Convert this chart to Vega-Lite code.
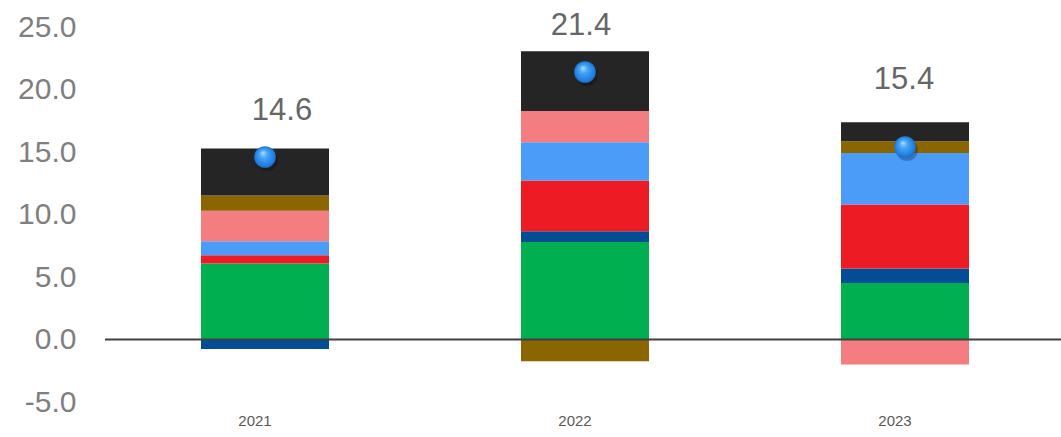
{
  "$schema": "https://vega.github.io/schema/vega-lite/v6.json",
  "width": 960,
  "height": 375,
  "autosize": {"type": "none"},
  "padding": {"left": 105, "top": 27, "right": 0, "bottom": 35},
  "config": {
    "view": {"stroke": null},
    "font": "Liberation Sans"
  },
  "datasets": {
    "segments": [
      {"year": "2021", "series": "Series 1", "rank": 1, "value": 6.08},
      {"year": "2021", "series": "Series 2", "rank": 2, "value": -0.75},
      {"year": "2021", "series": "Series 3", "rank": 3, "value": 0.66},
      {"year": "2021", "series": "Series 4", "rank": 4, "value": 1.12},
      {"year": "2021", "series": "Series 5", "rank": 5, "value": 2.44},
      {"year": "2021", "series": "Series 6", "rank": 6, "value": 1.22},
      {"year": "2021", "series": "Series 7", "rank": 7, "value": 3.76},
      {"year": "2022", "series": "Series 1", "rank": 1, "value": 7.81},
      {"year": "2022", "series": "Series 2", "rank": 2, "value": 0.86},
      {"year": "2022", "series": "Series 3", "rank": 3, "value": 4.05},
      {"year": "2022", "series": "Series 4", "rank": 4, "value": 3.07},
      {"year": "2022", "series": "Series 5", "rank": 5, "value": 2.5},
      {"year": "2022", "series": "Series 6", "rank": 6, "value": -1.73},
      {"year": "2022", "series": "Series 7", "rank": 7, "value": 4.77},
      {"year": "2023", "series": "Series 1", "rank": 1, "value": 4.53},
      {"year": "2023", "series": "Series 2", "rank": 2, "value": 1.15},
      {"year": "2023", "series": "Series 3", "rank": 3, "value": 5.12},
      {"year": "2023", "series": "Series 4", "rank": 4, "value": 4.13},
      {"year": "2023", "series": "Series 5", "rank": 5, "value": -2.0},
      {"year": "2023", "series": "Series 6", "rank": 6, "value": 0.94},
      {"year": "2023", "series": "Series 7", "rank": 7, "value": 1.52}
    ],
    "totals": [
      {"year": "2021", "total": 14.6},
      {"year": "2022", "total": 21.4},
      {"year": "2023", "total": 15.4}
    ]
  },
  "encoding": {
    "x": {
      "field": "year",
      "type": "nominal",
      "scale": {"paddingInner": 0.6, "paddingOuter": 0.3},
      "axis": {
        "title": null,
        "labelAngle": 0,
        "domain": false,
        "ticks": false,
        "labelFontSize": 15,
        "labelColor": "#595959",
        "labelPadding": 11,
        "labelOffset": -10
      }
    }
  },
  "layer": [
    {
      "data": {"name": "segments"},
      "mark": {"type": "bar"},
      "encoding": {
        "y": {
          "field": "value",
          "type": "quantitative",
          "stack": "zero",
          "scale": {"domain": [-5, 25], "nice": false, "zero": false},
          "axis": {
            "title": null,
            "values": [-5, 0, 5, 10, 15, 20, 25],
            "labelExpr": "replace(format(datum.value, '.1f'), '\u2212', '-')",
            "domain": false,
            "ticks": false,
            "grid": false,
            "labelFontSize": 30,
            "labelColor": "#7f7f7f",
            "labelPadding": 29
          }
        },
        "order": {"field": "rank", "type": "quantitative"},
        "color": {
          "field": "series",
          "type": "nominal",
          "legend": null,
          "scale": {
            "domain": ["Series 1", "Series 2", "Series 3", "Series 4", "Series 5", "Series 6", "Series 7"],
            "range": ["#00B050", "#034C96", "#ED1C24", "#4A9CF8", "#F47D80", "#8A6500", "#252525"]
          }
        }
      }
    },
    {
      "data": {"values": [{"zero": 0}]},
      "mark": {"type": "rule", "color": "#404040", "strokeWidth": 2},
      "encoding": {
        "x": null,
        "y": {"field": "zero", "type": "quantitative"}
      }
    },
    {
      "data": {"name": "totals"},
      "mark": {"type": "point", "shape": "circle", "size": 470, "filled": true, "color": "#000000", "opacity": 0.25, "xOffset": 2, "yOffset": 3},
      "encoding": {
        "y": {"field": "total", "type": "quantitative"}
      }
    },
    {
      "data": {"name": "totals"},
      "mark": {
        "type": "point",
        "shape": "circle",
        "size": 470,
        "filled": true,
        "opacity": 1,
        "color": {
          "gradient": "radial",
          "x1": 0.4, "y1": 0.3, "r1": 0,
          "x2": 0.5, "y2": 0.5, "r2": 0.55,
          "stops": [
            {"offset": 0, "color": "#a8dcff"},
            {"offset": 0.35, "color": "#45a4f5"},
            {"offset": 0.8, "color": "#1f7ee0"},
            {"offset": 1, "color": "#1a5fb0"}
          ]
        }
      },
      "encoding": {
        "y": {"field": "total", "type": "quantitative"}
      }
    },
    {
      "data": {"name": "totals"},
      "transform": [{"filter": "datum.year === '2021'"}],
      "mark": {"type": "text", "fontSize": 31, "color": "#666666", "baseline": "alphabetic", "dy": -37, "dx": 17},
      "encoding": {
        "y": {"field": "total", "type": "quantitative"},
        "text": {"field": "total", "type": "quantitative", "format": ".1f"}
      }
    },
    {
      "data": {"name": "totals"},
      "transform": [{"filter": "datum.year === '2022'"}],
      "mark": {"type": "text", "fontSize": 31, "color": "#666666", "baseline": "alphabetic", "dy": -37, "dx": -4},
      "encoding": {
        "y": {"field": "total", "type": "quantitative"},
        "text": {"field": "total", "type": "quantitative", "format": ".1f"}
      }
    },
    {
      "data": {"name": "totals"},
      "transform": [{"filter": "datum.year === '2023'"}],
      "mark": {"type": "text", "fontSize": 31, "color": "#666666", "baseline": "alphabetic", "dy": -58, "dx": -1},
      "encoding": {
        "y": {"field": "total", "type": "quantitative"},
        "text": {"field": "total", "type": "quantitative", "format": ".1f"}
      }
    }
  ]
}
